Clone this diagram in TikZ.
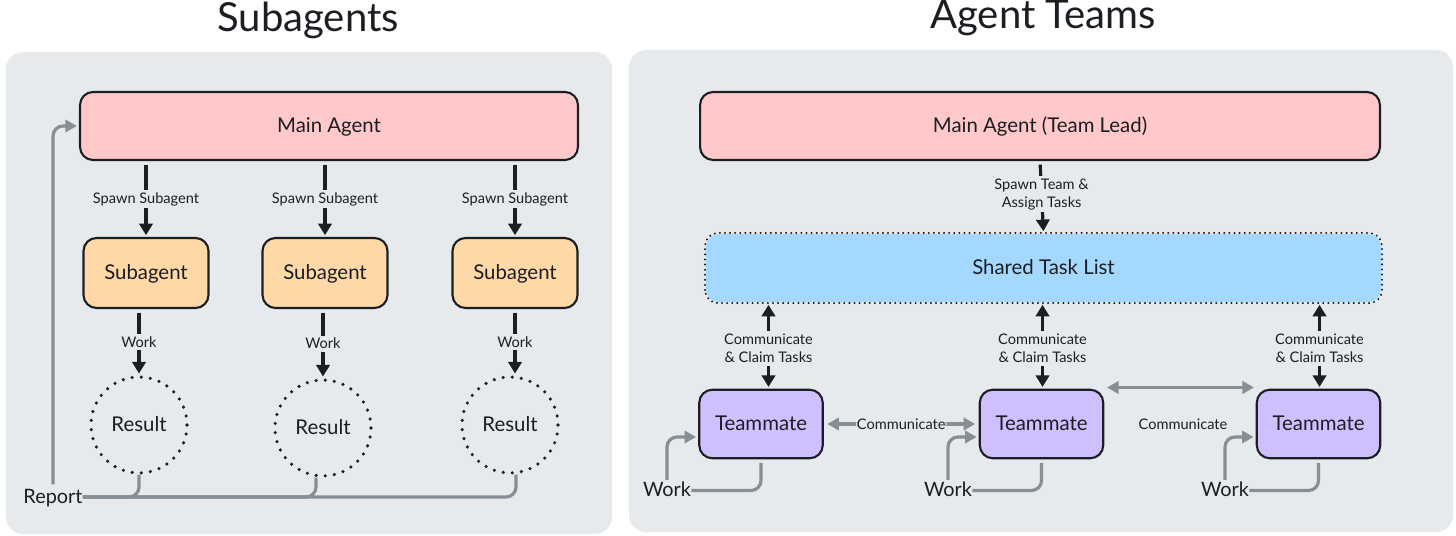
\documentclass[tikz,border=0pt]{standalone}
\usepackage{fontspec}
\setmainfont{Lato}
\usetikzlibrary{arrows.meta}
\definecolor{panelgray}{HTML}{E6EAED}
\definecolor{agentred}{HTML}{FFC9C9}
\definecolor{suborange}{HTML}{FFD8A8}
\definecolor{listblue}{HTML}{A5D8FF}
\definecolor{matepurple}{HTML}{D0BFFF}
\definecolor{linegray}{HTML}{868E96}
\definecolor{inkblack}{HTML}{1B1F23}
\tikzset{
  panel/.style={fill=panelgray, rounded corners=0.34cm},
  box/.style={draw=inkblack, line width=1.2pt, rounded corners=0.26cm, inner sep=0pt, text=inkblack, text height=0.72em, text depth=0pt, font=\fontsize{11.6}{13}\selectfont},
  resultring/.style={circle, draw=inkblack, line width=2pt, line cap=round, dash pattern=on 0pt off 5.2pt, minimum size=1.92cm, inner sep=0pt, text=inkblack, text height=0.72em, text depth=0pt, font=\fontsize{11.6}{13}\selectfont},
  edgelabel/.style={fill=panelgray, inner sep=1.5pt, align=center, text=inkblack, font=\fontsize{8.3}{10.3}\selectfont},
  sidelabel/.style={inner sep=0pt, text=inkblack, text height=0.72em, text depth=0pt, font=\fontsize{11.3}{13}\selectfont},
  heading/.style={inner sep=0pt, text=inkblack, font=\fontsize{22.8}{26}\selectfont},
  blackarrow/.style={draw=inkblack, line width=1.8pt, -{Triangle[length=6.6pt,width=7.6pt]}, shorten >=1pt, shorten <=2pt},
  blacktwoway/.style={draw=inkblack, line width=1.8pt, {Triangle[length=6.6pt,width=7.6pt]}-{Triangle[length=6.6pt,width=7.6pt]}, shorten >=1pt, shorten <=1pt},
  grayline/.style={draw=linegray, line width=1.8pt, rounded corners=0.2cm},
  grayarrow/.style={grayline, -{Triangle[length=6.6pt,width=7pt]}, shorten >=1.2pt},
  graytwoway/.style={grayline, {Triangle[length=6.6pt,width=7pt]}-{Triangle[length=6.6pt,width=7pt]}}
}
\begin{document}
\begin{tikzpicture}[x=0.02cm, y=-0.02cm]
  \useasboundingbox (0,0) rectangle (1456,536);

  % Panels
  \fill[panel] (6,52) rectangle (612,534);
  \fill[panel] (629,50) rectangle (1453,532);

  % Titles
  \node[heading] (subtitle) at (308,20) {Subagents};
  \node[heading] (teamtitle) at (1043,18) {Agent Teams};

  % Subagents side
  \node[box, fill=agentred, minimum width=9.96cm, minimum height=1.36cm] (main) at (329,126) {Main Agent};
  \foreach \i/\sx/\rx/\ry in {1/146/139/425, 2/325/323/428, 3/515/510/425} {
    \node[box, fill=suborange, minimum width=2.5cm, minimum height=1.4cm] (sub\i) at (\sx,273) {Subagent};
    \node[resultring] (result\i) at (\rx,\ry) {Result};
    \draw[blackarrow] (main.south -| sub\i.north) -- node[edgelabel] {Spawn Subagent} (sub\i.north);
  }
  \draw[blackarrow] (result1.north |- sub1.south) -- node[edgelabel] {Work} (result1.north);
  \draw[blackarrow] (result2.north |- sub2.south) -- node[edgelabel] {Work} (result2.north);
  \draw[blackarrow] (sub3.south) -- node[edgelabel] {Work} (sub3.south |- result3.north);

  % Report lines
  \node[sidelabel] (report) at (53,497) {Report};
  \draw[grayarrow] ([yshift=0.12cm]report.north) |- (main.west);
  \draw[grayline] (result1.south) |- (report.east);
  \draw[grayline] ([xshift=-0.14cm]result2.south) |- (report.east);
  \draw[grayline] ([xshift=0.12cm]result3.south) |- (report.east);

  % Agent Teams side
  \node[box, fill=agentred, minimum width=13.6cm, minimum height=1.36cm] (lead) at (1040,126) {Main Agent (Team Lead)};
  \node[box, draw=none, fill=listblue, minimum width=13.5cm, minimum height=1.36cm] (tasks) at (1043.5,268) {Shared Task List};
  \draw[inkblack, line width=1.3pt, line cap=round, dash pattern=on 0pt off 2.9pt, rounded corners=0.26cm] (tasks.south west) rectangle (tasks.north east);
  \draw[blackarrow] (lead.south) -- node[edgelabel, pos=0.46] {Spawn Team \&\\Assign Tasks} (tasks.north);

  \foreach \i/\mx/\wx/\ax in {1/761/667/0.15cm, 2/1041.5/948/0.02cm, 3/1318.5/1225/0.02cm} {
    \node[box, fill=matepurple, minimum width=2.47cm, minimum height=1.37cm] (mate\i) at (\mx,424) {Teammate};
    \node[sidelabel] (work\i) at (\wx,490.5) {Work};
    \draw[blacktwoway] ([xshift=\ax]mate\i.north) -- node[edgelabel, pos=0.47] {Communicate\\\& Claim Tasks} ([xshift=\ax]mate\i.north |- tasks.south);
    \draw[grayarrow] ([yshift=0.08cm]work\i.north) |- ([yshift=-0.26cm]mate\i.west);
    \draw[grayline, shorten <=2pt] (mate\i.south) |- (work\i.east);
  }

  % Communicate links
  \draw[graytwoway, shorten <=2pt, shorten >=2pt] (mate1.east) -- node[edgelabel, inner sep=0.5pt] {Communicate} (mate2.west);
  \coordinate (linkstart) at (1107,387.5);
  \coordinate (linkend) at (1254,387.5);
  \draw[graytwoway] (linkstart) -- (linkend);
  \node[edgelabel, fill=none] (commlabel) at (1183,424) {Communicate};
\end{tikzpicture}
\end{document}
